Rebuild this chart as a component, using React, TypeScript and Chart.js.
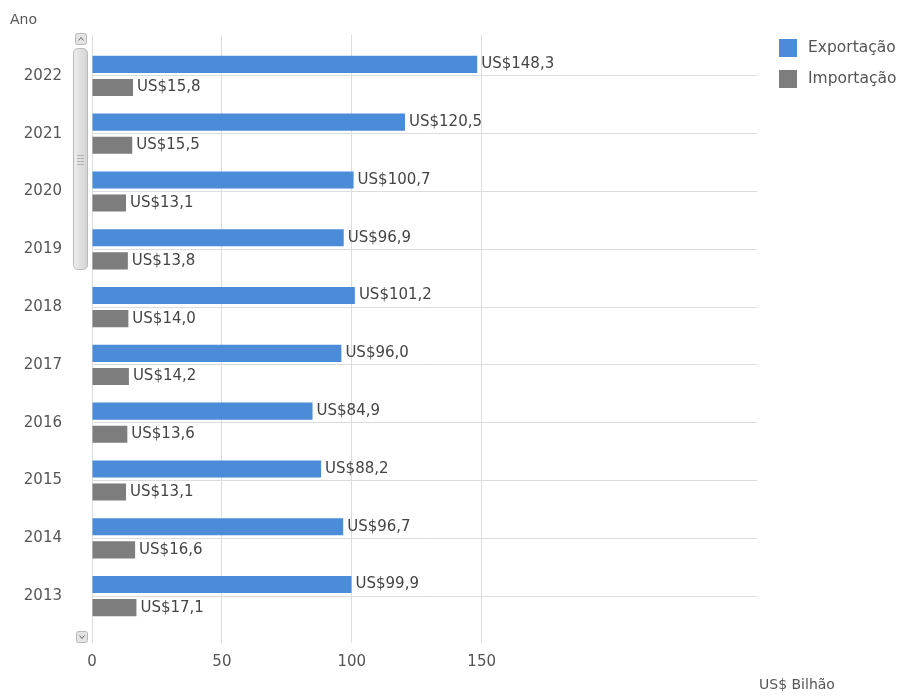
import React, { useEffect, useRef } from "react";
import { Chart, registerables } from "chart.js";

Chart.register(...registerables);

const years = ["2022", "2021", "2020", "2019", "2018", "2017", "2016", "2015", "2014", "2013"];
const exportacao = [148.3, 120.5, 100.7, 96.9, 101.2, 96.0, 84.9, 88.2, 96.7, 99.9];
const importacao = [15.8, 15.5, 13.1, 13.8, 14.0, 14.2, 13.6, 13.1, 16.6, 17.1];
const seriesNames = ["Exportação", "Importação"];
const xTickMax = 150;
const xAxisMax = 256;

const BLUE = "#4a8cd8";
const GRAY = "#7d7d7d";
const TEXT = "#555555";
const GRID = "#dcdcdc";
const FONT = "DejaVu Sans";

const fmt = (v: number) => "US$" + v.toFixed(1).replace(".", ",");

const decor = {
  id: "decor",
  beforeDatasetsDraw(chart: any) {
    const ctx = chart.ctx;
    const xs = chart.scales.x;
    const top = chart.chartArea.top;
    ctx.save();
    ctx.strokeStyle = GRID;
    ctx.lineWidth = 1;
    xs.ticks.forEach((t: any) => {
      const px = Math.round(xs.getPixelForValue(t.value) - 0.5) + 0.5;
      ctx.beginPath();
      ctx.moveTo(px, 35);
      ctx.lineTo(px, top);
      ctx.stroke();
    });
    ctx.restore();
  },
  afterDatasetsDraw(chart: any) {
    const ctx = chart.ctx;
    ctx.save();
    ctx.font = `15px "${FONT}"`;
    ctx.fillStyle = "#444";
    ctx.textBaseline = "middle";
    ctx.textAlign = "left";
    chart.data.datasets.forEach((ds: any, di: number) => {
      const meta = chart.getDatasetMeta(di);
      meta.data.forEach((el: any, i: number) => {
        ctx.fillText(fmt(ds.data[i]), el.x + 4, el.y);
      });
    });
    ctx.restore();
  },
  afterDraw(chart: any) {
    const ctx = chart.ctx;
    ctx.save();
    ctx.fillStyle = TEXT;
    ctx.font = `14px "${FONT}"`;
    ctx.textBaseline = "middle";
    ctx.textAlign = "left";
    ctx.fillText("Ano", 10, 20);
    ctx.fillText("US$ Bilhão", 759, 685);
    const colors = [BLUE, GRAY];
    const ys = [48, 79];
    ctx.font = `15.5px "${FONT}"`;
    seriesNames.forEach((n, i) => {
      ctx.fillStyle = colors[i];
      ctx.fillRect(779, ys[i] - 9, 18, 18);
      ctx.fillStyle = TEXT;
      ctx.fillText(n, 808, ys[i]);
    });
    const rr = (x: number, y: number, w: number, h: number, r: number) => {
      ctx.beginPath();
      ctx.moveTo(x + r, y);
      ctx.lineTo(x + w - r, y);
      ctx.quadraticCurveTo(x + w, y, x + w, y + r);
      ctx.lineTo(x + w, y + h - r);
      ctx.quadraticCurveTo(x + w, y + h, x + w - r, y + h);
      ctx.lineTo(x + r, y + h);
      ctx.quadraticCurveTo(x, y + h, x, y + h - r);
      ctx.lineTo(x, y + r);
      ctx.quadraticCurveTo(x, y, x + r, y);
      ctx.closePath();
    };
    const g = ctx.createLinearGradient(73, 0, 88, 0);
    g.addColorStop(0, "#eeeeee");
    g.addColorStop(1, "#d2d2d2");
    ctx.fillStyle = g;
    ctx.strokeStyle = "#b8b8b8";
    ctx.lineWidth = 1;
    rr(73.5, 48.5, 14, 221, 5);
    ctx.fill();
    ctx.stroke();
    ctx.strokeStyle = "#b0b0b0";
    [155, 158, 161, 164].forEach((y) => {
      ctx.beginPath();
      ctx.moveTo(77, y + 0.5);
      ctx.lineTo(84, y + 0.5);
      ctx.stroke();
    });
    const btn = (x: number, y: number, up: boolean) => {
      ctx.fillStyle = "#e4e4e4";
      ctx.strokeStyle = "#b8b8b8";
      rr(x + 0.5, y + 0.5, 11, 11, 2);
      ctx.fill();
      ctx.stroke();
      ctx.strokeStyle = "#666";
      ctx.beginPath();
      if (up) {
        ctx.moveTo(x + 3.5, y + 7.5);
        ctx.lineTo(x + 6, y + 4.5);
        ctx.lineTo(x + 8.5, y + 7.5);
      } else {
        ctx.moveTo(x + 3.5, y + 4.5);
        ctx.lineTo(x + 6, y + 7.5);
        ctx.lineTo(x + 8.5, y + 4.5);
      }
      ctx.stroke();
    };
    btn(75, 33, true);
    btn(76, 631, false);
    ctx.restore();
  },
};

export default function App() {
  const ref = useRef<HTMLCanvasElement | null>(null);
  useEffect(() => {
    if (!ref.current) return;
    const chart = new Chart(ref.current, {
      type: "bar",
      data: {
        labels: years,
        datasets: [
          {
            label: seriesNames[0],
            data: exportacao,
            backgroundColor: BLUE,
            categoryPercentage: 0.8,
            barPercentage: 0.74,
          },
          {
            label: seriesNames[1],
            data: importacao,
            backgroundColor: GRAY,
            categoryPercentage: 0.8,
            barPercentage: 0.74,
          },
        ],
      },
      options: {
        indexAxis: "y",
        responsive: false,
        animation: false,
        layout: { padding: { left: 0, right: 147, top: 47, bottom: 0 } },
        plugins: {
          legend: { display: false },
          tooltip: { enabled: false },
        },
        scales: {
          x: {
            min: 0,
            max: xAxisMax,
            border: { display: false },
            ticks: {
              stepSize: 50,
              color: TEXT,
              font: { family: FONT, size: 15 },
              padding: 10,
            },
            grid: { color: GRID, tickLength: 18, drawTicks: true, tickColor: GRID },
            afterBuildTicks: (scale: any) => {
              scale.ticks = scale.ticks.filter((t: any) => t.value <= xTickMax);
            },
            afterFit: (scale: any) => {
              scale.height = 71;
            },
          },
          y: {
            border: { display: false },
            ticks: {
              color: TEXT,
              font: { family: FONT, size: 15 },
              padding: 30,
            },
            grid: { color: GRID, offset: false, drawTicks: false },
            afterFit: (scale: any) => {
              scale.width = 92;
            },
          },
        },
      },
      plugins: [decor],
    } as any);
    return () => chart.destroy();
  }, []);
  return (
    <div style={{ position: "fixed", left: 0, top: 0, width: 904, height: 696, background: "#fff" }}>
      <canvas ref={ref} width={904} height={696} style={{ width: 904, height: 696 }} />
    </div>
  );
}
